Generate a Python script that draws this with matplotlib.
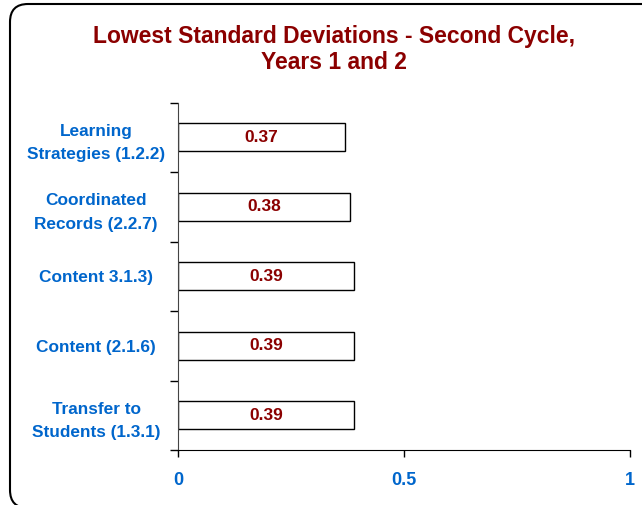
import matplotlib
matplotlib.use('Agg')
import matplotlib.pyplot as plt
from matplotlib.patches import FancyBboxPatch
from matplotlib.transforms import IdentityTransform

plt.rcParams['font.family'] = ['Liberation Sans', 'DejaVu Sans']

# data (bottom to top)
categories = ['Transfer to\nStudents (1.3.1)', 'Content (2.1.6)', 'Content 3.1.3)',
              'Coordinated\nRecords (2.2.7)', 'Learning\nStrategies (1.2.2)']
values = [0.39, 0.39, 0.39, 0.38, 0.37]
xticks = [0, 0.5, 1]
xtick_labels = ['0', '0.5', '1']

title_color = '#8B0000'
blue = '#0066CC'

W, H = 642, 505
fig = plt.figure(figsize=(W / 100, H / 100), dpi=100)

# rounded frame round the chart (runs off the right and bottom edges), pixel coords
frame = FancyBboxPatch((10, -3), 700, H - 4 + 3, transform=IdentityTransform(),
                       boxstyle='round,pad=0,rounding_size=18',
                       facecolor='none', edgecolor='black', linewidth=1.5)
fig.patches.append(frame)

ax = fig.add_axes([178 / W, 1 - 450 / H, (630 - 178) / W, (450 - 102.5) / H])

pos = list(range(len(categories)))
ax.barh(pos, values, height=0.41, color='white', edgecolor='black', linewidth=1)
for p, v in zip(pos, values):
    ax.text(v / 2, p, '%.2f' % v, ha='center', va='center', color=title_color,
            fontsize=12.5, fontweight='bold')

ax.set_xlim(0, 1)
ax.set_ylim(-0.5, len(categories) - 0.5)
ax.set_xticks(xticks)
ax.set_xticklabels(xtick_labels, color=blue, fontsize=13, fontweight='bold')
ax.tick_params(axis='x', length=5, pad=11, width=1)

# category labels at centers, tick marks between categories
ax.set_yticks(pos)
ax.set_yticklabels(categories, color=blue, fontsize=12.4, fontweight='bold',
                   ha='center', linespacing=1.7)
ax.tick_params(axis='y', which='major', length=0, pad=59)
ax.set_yticks([p - 0.5 for p in pos] + [len(pos) - 0.5], minor=True)
ax.tick_params(axis='y', which='minor', length=6, width=1)

for s in ['top', 'right']:
    ax.spines[s].set_visible(False)
ax.spines['left'].set_color('#444444')

fig.text(334 / W, 1 - 49.5 / H, 'Lowest Standard Deviations - Second Cycle,\nYears 1 and 2',
         ha='center', va='center', color=title_color, fontsize=16.5,
         fontweight='bold', linespacing=1.2)

fig.savefig('out.png', dpi=100)
